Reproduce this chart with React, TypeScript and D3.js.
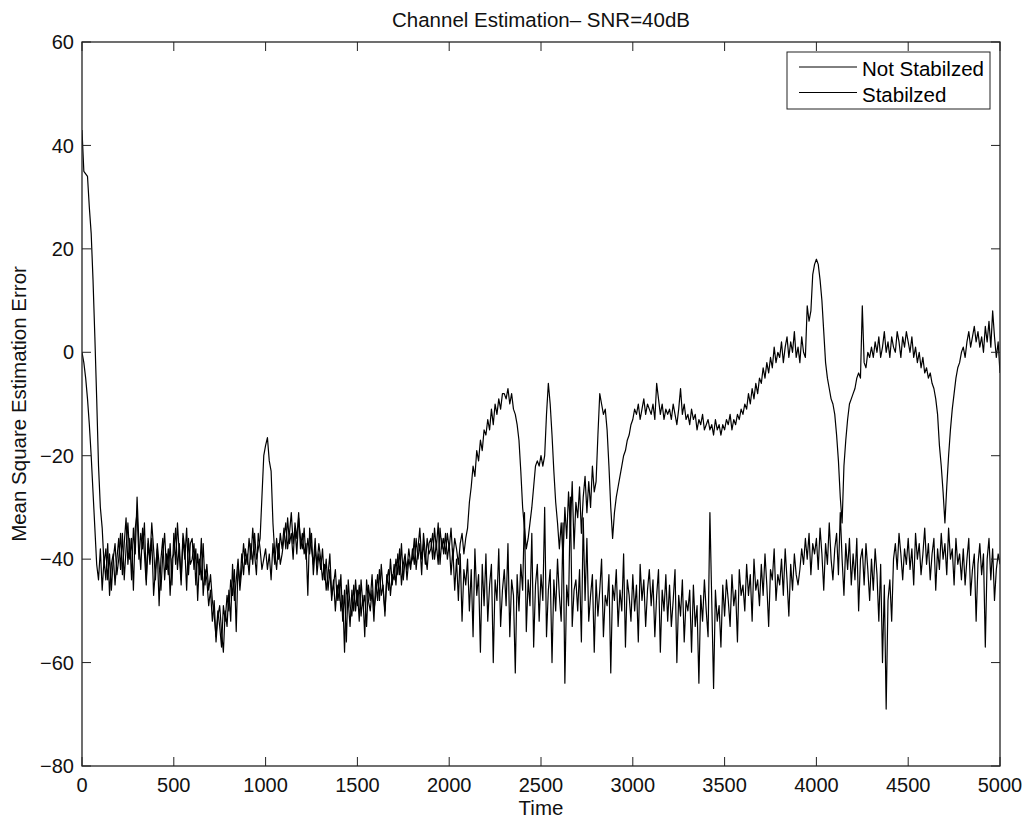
import React from 'react'
import * as d3 from 'd3'

// sampled every 10 time units, 0..5000
const step = 10

const stabilized = [
  0, -2, -5, -9, -14, -20, -27, -34, -41, -44,
  -38, -46, -40, -44, -37, -47, -41, -39, -45, -40,
  -36, -42, -35, -44, -38, -33, -40, -36, -46, -34,
  -31, -40, -35, -38, -33, -44, -37, -41, -36, -47,
  -42, -38, -49, -40, -36, -44, -39, -43, -37, -45,
  -35, -41, -33, -39, -45, -36, -40, -34, -43, -37,
  -36, -42, -38, -48, -40, -44, -37, -45, -41, -46,
  -43, -48, -51, -55, -50, -53, -57, -49, -52, -47,
  -50, -44, -47, -42, -54, -41, -45, -39, -43, -38,
  -41, -36, -40, -34, -39, -43, -35, -38, -42, -40,
  -38, -42, -39, -44, -37, -41, -36, -40, -35, -38,
  -34, -38, -32, -37, -35, -40, -33, -36, -31, -38,
  -35, -39, -37, -47, -34, -38, -41, -36, -43, -39,
  -42, -38, -44, -40, -46, -42, -48, -44, -50, -45,
  -48, -43, -52, -46, -56, -44, -49, -51, -45, -50,
  -46, -52, -44, -49, -47, -53, -45, -48, -43, -50,
  -47, -43, -48, -41, -46, -50, -44, -42, -47, -43,
  -44, -40, -43, -38, -45, -41, -39, -44, -40, -42,
  -38, -41, -36, -40, -37, -43, -35, -39, -42, -37,
  -36, -40, -34, -38, -33, -41, -36, -39, -35, -40,
  -37, -43, -38, -46, -40, -48, -39, -52, -42, -45,
  -40, -50, -42, -55, -38, -47, -43, -58, -41, -49,
  -39, -52, -45, -41, -60, -44, -48, -38, -53, -46,
  -42, -49, -37, -55, -44, -47, -62, -43, -50, -41,
  -46, -31, -54, -44, -49, -35, -57, -45, -41, -52,
  -43, -48, -30, -55, -46, -42, -60, -44, -50, -40,
  -47, -52, -33, -64, -45, -49, -28, -53, -46, -44,
  -50, -42, -56, -32, -48, -36, -52, -47, -43, -58,
  -44, -51, -46, -40, -55, -47, -49, -43, -62, -45,
  -48, -42, -53, -46, -50, -39, -57, -44, -47, -52,
  -43, -50, -45, -56, -41, -48, -44, -53, -46, -42,
  -49, -44, -55, -47, -42, -58, -46, -50, -43, -52,
  -45, -53, -48, -42, -60, -47, -51, -44, -56, -48,
  -50, -46, -58, -45, -53, -49, -64, -47, -52, -44,
  -50, -55, -31, -48, -65, -46, -52, -49, -57, -45,
  -51, -44, -48, -53, -43, -49, -46, -56, -42, -47,
  -45, -50, -41, -47, -43, -52, -40, -46, -44, -49,
  -41, -47, -39, -45, -53, -42, -44, -38, -48, -43,
  -45, -40, -47, -38, -44, -51, -41, -46, -39, -43,
  -45, -42, -38, -41, -36, -40, -35, -43, -37, -39,
  -36, -42, -34, -39, -46, -37, -41, -33, -40, -44,
  -38, -35, -43, -31, -40, -47, -37, -42, -36, -45,
  -39, -44, -36, -50, -40, -38, -45, -37, -42, -48,
  -40, -46, -38, -43, -52, -41, -60, -45, -69, -48,
  -44, -52, -40, -37, -42, -35, -39, -44, -38, -41,
  -36, -42, -38, -45, -35, -40, -37, -43, -39, -34,
  -41, -37, -44, -39, -36, -46, -38, -42, -35, -40,
  -37, -43, -34, -40, -38, -45, -36, -41, -39, -44,
  -38, -45, -40, -36, -47, -42, -39, -52, -41, -37,
  -43, -39, -57, -40, -36, -44, -38, -48, -42, -39,
  -41,
]

const notStabilized = [
  43, 35, 34.5, 34, 28, 23, 14, 3, -9, -22,
  -30, -34, -41, -38, -44, -39, -46, -40, -37, -43,
  -40, -35, -43, -37, -32, -41, -36, -44, -34, -39,
  -28, -37, -42, -34, -39, -45, -36, -40, -33, -38,
  -44, -37, -41, -46, -39, -35, -42, -38, -47, -40,
  -39, -34, -42, -37, -44, -35, -38, -46, -36, -41,
  -40, -37, -45, -39, -43, -36, -47, -42, -44, -49,
  -46, -52, -48, -56, -51, -49, -54, -58, -50, -53,
  -46, -52, -41, -48, -44, -40, -46, -42, -37, -41,
  -39, -43, -37, -41, -35, -40, -38, -36, -28, -20,
  -18, -16.5, -21, -23, -33, -39, -42, -37, -41, -39,
  -36, -33, -38, -35, -31, -37, -34, -39, -32, -36,
  -38, -34, -40, -36, -39, -35, -43, -38, -41, -37,
  -40, -44, -41, -46, -43, -39, -47, -45, -42, -48,
  -44, -50, -47, -58, -45, -48, -53, -46, -50, -44,
  -49, -45, -51, -47, -55, -44, -48, -50, -46, -52,
  -44, -48, -42, -47, -45, -51, -43, -46, -40, -45,
  -41, -45, -39, -43, -37, -44, -40, -42, -38, -41,
  -40, -36, -42, -38, -34, -40, -37, -41, -36, -39,
  -38, -35, -40, -37, -41, -34, -38, -36, -39, -35,
  -38, -34, -40, -36, -38, -41, -37, -35, -39, -36,
  -34, -29, -26, -22, -24, -19, -21, -17, -19, -15,
  -16, -13, -15, -11, -14, -10, -12, -9, -11, -8,
  -8, -9, -7, -10, -8, -11, -12, -14, -17, -23,
  -30, -34, -38, -36, -33, -30, -26, -22, -21, -22,
  -20, -22, -20, -12, -6, -10, -16, -23, -29, -33,
  -38, -33, -40, -30, -36, -27, -34, -25, -38, -29,
  -32, -26, -35, -28, -24, -31, -25, -30, -22, -27,
  -25, -16, -8, -10, -12, -11, -15, -22, -30, -36,
  -31, -28, -26, -24, -22, -20, -19, -17, -16, -14,
  -13, -11, -12, -10, -13, -11, -9, -12, -10, -11,
  -12, -10, -13, -6, -9, -12, -10, -13, -11, -12,
  -11, -13, -10, -12, -14, -11, -7, -12, -10, -13,
  -12, -14, -11, -13, -12, -15, -13, -14, -12, -15,
  -14, -13, -15, -14, -16, -13, -15, -14, -16, -14,
  -15, -13, -14, -12, -15, -13, -14, -12, -13, -11,
  -12, -10, -11, -8, -10, -7, -9, -6, -8, -5,
  -6, -3, -5, -2, -4, -1, -3, 1, -2, 0,
  -1, 2, -2, 1, 3, -1, 2, 0, 4, -1,
  1, -2, 3, 0, -1, 9, 6, 8, 15, 17,
  18, 17, 14, 10, 4, -2, -5, -7, -9, -10,
  -12, -16, -21, -28, -33, -22, -17, -13, -10, -9,
  -8, -7, -5, -4, -5, 9, -2, -3, 0, -1,
  1, -1, 2, 0, 3, -1, 1, 4, 0, 2,
  -1, 3, 1, 0, 4, 2, -1, 3, 1, 4,
  2, 0, 3, -1, 1, -2, 0, -3, -1, -4,
  -3, -5, -4, -6, -7, -9, -12, -18, -22, -27,
  -33, -26, -20, -15, -11, -8, -5, -3, -2, 0,
  1, -1, 2, 4, 1, 3, 5, 2, 4, 1,
  3, 0, 5, 2, 6, 1, 8, 3, -1, 2,
  -4,
]

const xTicks = [0, 500, 1000, 1500, 2000, 2500, 3000, 3500, 4000, 4500, 5000]
const yTicks = [-80, -60, -40, -20, 0, 20, 40, 60]
const legendLabels = ['Not Stabilzed', 'Stabilzed']

const W = 1025
const H = 821
const margin = { left: 82, right: 25, top: 42, bottom: 55 }
const font = '"Liberation Sans", Arial, Helvetica, sans-serif'
const frame = '#222'

export default function App() {
  const x = d3.scaleLinear().domain([0, 5000]).range([margin.left, W - margin.right])
  const y = d3.scaleLinear().domain([-80, 60]).range([H - margin.bottom, margin.top])

  const line = d3.line<number>()
    .x((d, i) => x(i * step))
    .y(d => y(d))

  const x0 = x.range()[0], x1 = x.range()[1]
  const y0 = y.range()[0], y1 = y.range()[1]
  const tickLen = 9
  const fmt = (v: number) => (v < 0 ? '\u2212' + Math.abs(v) : String(v))

  return (
    <svg width={W} height={H} style={{ position: 'absolute', left: 0, top: 0, background: '#fff' }}
      fontFamily={font}>
      <defs>
        <clipPath id="plot">
          <rect x={x0} y={y1} width={x1 - x0} height={y0 - y1} />
        </clipPath>
      </defs>

      <g clipPath="url(#plot)" fill="none" stroke="#000" strokeWidth={1.2} strokeLinejoin="round">
        <path d={line(notStabilized) || ''} />
        <path d={line(stabilized) || ''} />
      </g>

      {/* frame */}
      <rect x={x0} y={y1} width={x1 - x0} height={y0 - y1} fill="none" stroke={frame} strokeWidth={1.3} />

      {xTicks.map(t => (
        <g key={'x' + t}>
          <line x1={x(t)} x2={x(t)} y1={y0} y2={y0 - tickLen} stroke={frame} />
          <line x1={x(t)} x2={x(t)} y1={y1} y2={y1 + tickLen} stroke={frame} />
          <text x={x(t)} y={y0 + 26} fontSize={20} textAnchor="middle" fill="#111">{t}</text>
        </g>
      ))}
      {yTicks.map(t => (
        <g key={'y' + t}>
          <line x1={x0} x2={x0 + tickLen} y1={y(t)} y2={y(t)} stroke={frame} />
          <line x1={x1} x2={x1 - tickLen} y1={y(t)} y2={y(t)} stroke={frame} />
          <text x={x0 - 8} y={y(t)} dy="0.36em" fontSize={20} textAnchor="end" fill="#111">{fmt(t)}</text>
        </g>
      ))}

      <text x={(x0 + x1) / 2} y={27} fontSize={20.5} textAnchor="middle" fill="#111">
        Channel Estimation– SNR=40dB
      </text>
      <text x={(x0 + x1) / 2} y={815} fontSize={20.5} textAnchor="middle" fill="#111">Time</text>
      <text transform={`translate(25.5,${(y0 + y1) / 2}) rotate(-90)`} fontSize={20.5}
        textAnchor="middle" fill="#111">Mean Square Estimation Error</text>

      {/* legend */}
      <g>
        <rect x={787} y={52} width={203} height={57} fill="#fff" stroke={frame} strokeWidth={1} />
        {legendLabels.map((lab, i) => (
          <g key={lab}>
            <line x1={799} x2={857} y1={67 + i * 25.5} y2={67 + i * 25.5} stroke="#000" strokeWidth={1} />
            <text x={862} y={76 + i * 25.5} fontSize={20.5} fill="#000">{lab}</text>
          </g>
        ))}
      </g>
    </svg>
  )
}
